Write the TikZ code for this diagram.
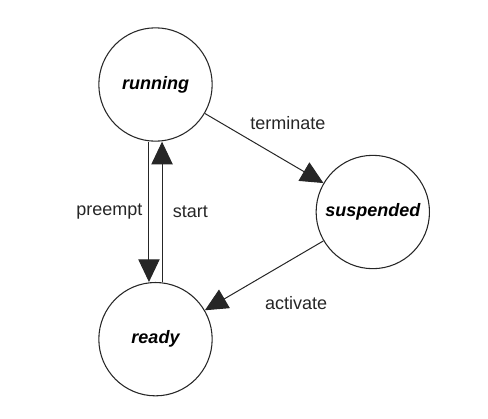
\documentclass[tikz,border=0pt]{standalone}
\usepackage{fontspec}
\setmainfont{Liberation Sans}
\usetikzlibrary{automata, positioning, arrows.meta}
\tikzset{
->, % every connector is directed
>={Triangle[length=17pt, width=16pt]}, % big filled heads
node distance=191pt, % running to ready, centre to centre
every state/.style={line width=0.8pt, draw=black!85, minimum size=85pt, inner sep=0pt, font=\fontsize{13.5}{16}\selectfont\bfseries\itshape}, % the three states
every edge/.style={draw, line width=0.75pt, black!85},
lbl/.style={inner sep=0pt, text=black!85, font=\fontsize{13.5}{16}\selectfont}, % edge labels
}

\begin{document}
\begin{tikzpicture}[x=0.75pt, y=-0.75pt]
    \useasboundingbox (0,0) rectangle (488,418);
    \node[state] (running) at (155.5,84.5) {running};
    \node[state, below of=running] (ready) {ready};
    \node[state] (suspended) at (372.8,212) {suspended};
    \path
    ([xshift=-4.9pt]running.south) edge node[lbl, left=4.5pt] {preempt} ([xshift=-4.9pt]ready.north)
    ([xshift=4.9pt]ready.north) edge node[lbl, right=7.8pt] {start} ([xshift=4.9pt]running.south)
    (running) edge node[lbl, pos=.7, above=24pt] {terminate} (suspended)
    (suspended) edge node[lbl, pos=.23, below=29pt] {activate} (ready);
  \end{tikzpicture}
\end{document}
